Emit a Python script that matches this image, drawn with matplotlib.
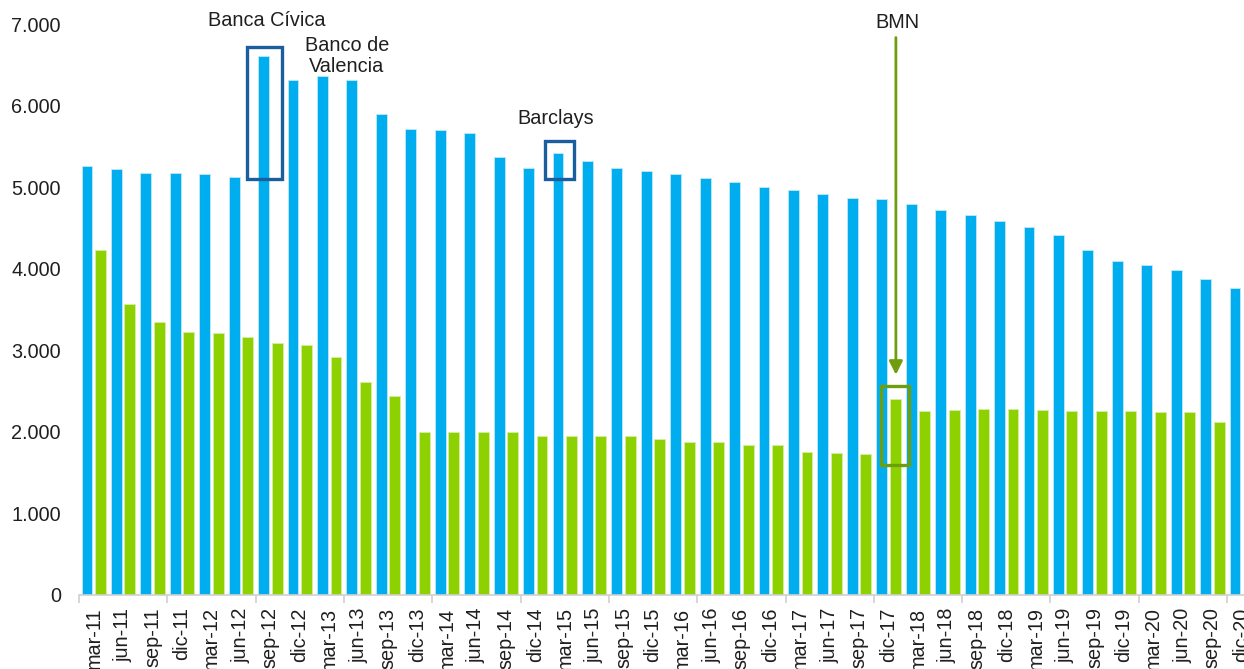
import numpy as np
import matplotlib

matplotlib.use("Agg")
import matplotlib.pyplot as plt
from matplotlib.patches import Rectangle

plt.rcParams["font.family"] = ["Liberation Sans", "DejaVu Sans"]

# quarters mar-11 .. dic-20
months = ["mar", "jun", "sep", "dic"]
labels = [f"{m}-{y}" for y in range(11, 21) for m in months]

# blue series (one value per quarter)
blue = [5257, 5217, 5168, 5168, 5156, 5126, 6605, 6315, 6364, 6315,
        5895, 5707, 5695, 5666, 5364, 5229, 5417, 5322, 5229, 5192,
        5163, 5110, 5058, 5004, 4967, 4911, 4862, 4849, 4795, 4714,
        4661, 4583, 4513, 4412, 4224, 4093, 4040, 3987, 3869, 3762]

# green series (last quarter falls outside the picture)
green = [4228, 3566, 3342, 3223, 3207, 3158, 3088, 3064, 2917, 2614,
         2442, 1994, 1994, 1994, 1994, 1952, 1952, 1952, 1952, 1912,
         1875, 1875, 1834, 1834, 1756, 1744, 1728, 2402, 2259, 2271,
         2283, 2283, 2271, 2259, 2259, 2259, 2246, 2246, 2116]

yticks = [0, 1000, 2000, 3000, 4000, 5000, 6000, 7000]

BLUE = "#00AEEF"
GREEN = "#8DD100"
BOX_BLUE = "#1B5E9E"
BOX_GREEN = "#6E9E0E"
TXT = "#1f1f1f"
FS = 14.3

W, H = 1244, 669
fig = plt.figure(figsize=(W / 100, H / 100), dpi=100)
ax = fig.add_axes([79 / W, 74 / H, (1256.5 - 79) / W, (595 - 24) / H])

n = len(labels)
idx = np.arange(n)
xb = idx + 0.27
xg = np.arange(len(green)) + 0.73
bw = 0.37

ax.bar(xb, blue, width=bw, color=BLUE, edgecolor="#BFE9FA", linewidth=0.6)
ax.bar(xg, green, width=bw, color=GREEN, edgecolor="#D6EFA6", linewidth=0.6)

ax.set_xlim(0, n)
ax.set_ylim(0, 7000)
ax.set_yticks(yticks)
ax.set_yticklabels([f"{v:,}".replace(",", ".") for v in yticks],
                   fontsize=FS, color=TXT)
ax.tick_params(axis="y", length=0, pad=13)

ax.set_xticks(idx + 0.5)
ax.set_xticklabels(labels, rotation=90, fontsize=FS, color=TXT)
ax.set_xticks(np.arange(0, n, 3), minor=True)
ax.tick_params(axis="x", which="major", length=0, pad=9)
ax.tick_params(axis="x", which="minor", length=6, width=1.2, color="#D0D0D0")

for s in ["top", "right", "left"]:
    ax.spines[s].set_visible(False)
ax.spines["bottom"].set_color("#D0D0D0")
ax.spines["bottom"].set_linewidth(1.2)

# highlight boxes
def box(x0, x1, y0, y1, color):
    ax.add_patch(Rectangle((x0, y0), x1 - x0, y1 - y0, fill=False,
                           edgecolor=color, linewidth=2.4, clip_on=False))

i_civ = labels.index("sep-12")
i_bar = labels.index("mar-15")
i_bmn = labels.index("dic-17")

box(i_civ - 0.29, i_civ + 0.90, 5100, 6720, BOX_BLUE)
box(i_bar - 0.17, i_bar + 0.81, 5100, 5560, BOX_BLUE)
box(i_bmn + 0.24, i_bmn + 1.19, 1595, 2565, BOX_GREEN)

ax.annotate("", xy=(i_bmn + 0.75, 2700), xytext=(i_bmn + 0.75, 6834),
            arrowprops=dict(arrowstyle="-|>,head_length=0.8,head_width=0.4",
                            color=BOX_GREEN, lw=2, shrinkA=0, shrinkB=0),
            annotation_clip=False)

ax.text(i_civ + 0.39, 7047, "Banca Cívica", ha="center", va="center",
        fontsize=FS, color=TXT)
ax.text(i_civ + 3.10, 6605, "Banco de\nValencia", ha="center", va="center",
        fontsize=FS, color=TXT, linespacing=1.1)
ax.text(i_bar + 0.2, 5846, "Barclays", ha="center", va="center",
        fontsize=FS, color=TXT)
ax.text(i_bmn + 0.79, 7022, "BMN", ha="center", va="center",
        fontsize=FS, color=TXT)

fig.savefig("out.png", dpi=100)
